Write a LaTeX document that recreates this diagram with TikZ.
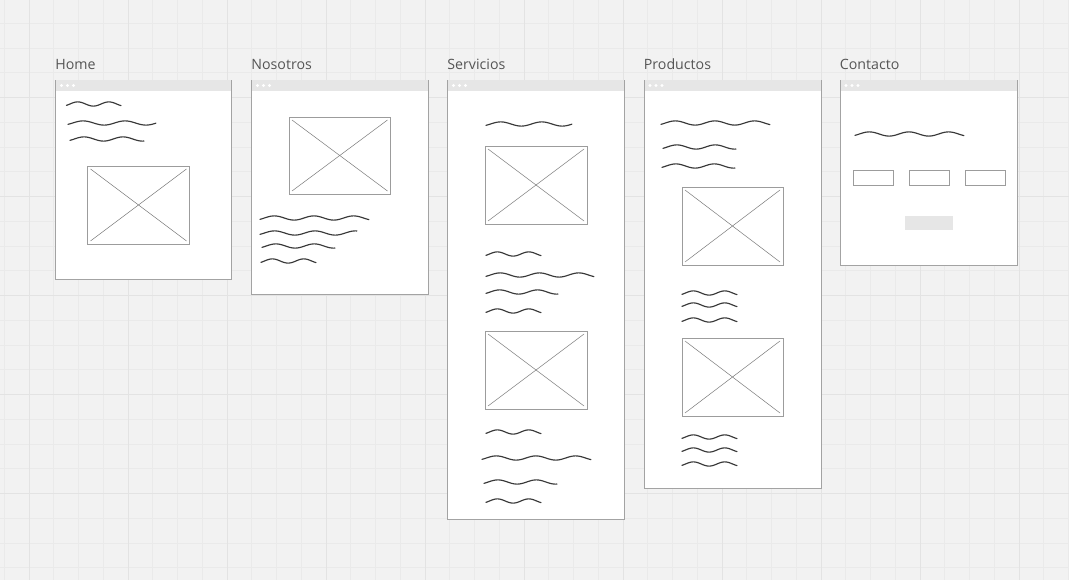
\documentclass[tikz,border=0pt]{standalone}
\usepackage{fontspec}
\setmainfont{Open Sans}
\definecolor{canvas}{HTML}{F2F2F2}
\definecolor{gridminor}{HTML}{EAEAEA}
\definecolor{gridmajor}{HTML}{E3E3E3}
\definecolor{framebar}{HTML}{E6E6E6}
\definecolor{frameedge}{HTML}{A3A3A3}
\definecolor{labelgray}{HTML}{555555}
\definecolor{inkgray}{HTML}{383838}
\definecolor{phedge}{HTML}{9C9C9C}
\definecolor{phcross}{HTML}{7A7A7A}
\tikzset{
  frame/.style={draw=frameedge,line width=0.9pt,fill=white},
  titlebar/.style={fill=framebar},
  bardot/.style={fill=white},
  pagelabel/.style={anchor=base west,inner sep=0pt,text=labelgray,font=\fontsize{14.2}{16}\selectfont},
  textline/.style={draw=inkgray,line width=1.15pt,line cap=round,line join=round},
  imgbox/.style={draw=phedge,line width=0.8pt,fill=white},
  imgcross/.style={draw=phcross,line width=0.5pt},
  inputbox/.style={draw=phedge,line width=1pt,fill=white},
  buttonbox/.style={fill=framebar},
}
% squiggle standing for a line of text: x0, x1, y, number of cycles
\newcommand\wavyline[4]{%
  \draw[textline] plot[domain=0:1,samples=70,smooth]
    ({#1+(#2-#1)*\x},{#3-2.1*sin(-40+360*#4*\x)});}
% image placeholder: box with a cross
\newcommand\imgholder[4]{%
  \draw[imgbox] (#1,#2) rectangle (#3,#4);
  \draw[imgcross] (#1+3,#2+3) -- (#3-3,#4-3);
  \draw[imgcross] (#1+3,#4-3) -- (#3-3,#2+3);}
% browser-like page frame: left, right, bottom, name, title
\newcommand\pageframe[5]{%
  \draw[frame] (#1,80) rectangle (#2,#3);
  \fill[titlebar] (#1+0.5,80.5) rectangle (#2-0.5,91);
  \foreach \d in {6,12,18} {\fill[bardot] (#1+\d,85.5) circle (1.6);}
  \node[pagelabel] (#4) at (#1-0.3,69.5) {#5};}
\begin{document}
\begin{tikzpicture}[x=1pt,y=-1pt]
\useasboundingbox (0,0) rectangle (1069,580);
\fill[canvas] (0,0) rectangle (1069,580);
% background grid
\begin{scope}
\clip (0,0) rectangle (1069,580);
\foreach \i in {0,...,44} {
  \draw[gridminor,line width=0.8pt] ({4.25+\i*24.75},0) -- ({4.25+\i*24.75},580);}
\foreach \i in {0,...,24} {
  \draw[gridminor,line width=0.8pt] (0,{-1.5+\i*24.75}) -- (1069,{-1.5+\i*24.75});}
\foreach \i in {0,...,11} {
  \draw[gridmajor,line width=1pt] ({29+\i*99},0) -- ({29+\i*99},580);}
\foreach \i in {0,...,6} {
  \draw[gridmajor,line width=1pt] (0,{-1.5+\i*99}) -- (1069,{-1.5+\i*99});}
\end{scope}

% Home
\pageframe{55.5}{231}{279}{home}{Home}
\wavyline{66.5}{121}{104}{1.75}
\wavyline{68}{156}{123}{2.1}
\wavyline{70}{144}{139}{1.9}
\imgholder{87.5}{166}{189.5}{244}

% Nosotros
\pageframe{251.5}{428}{294}{nosotros}{Nosotros}
\imgholder{289}{117}{390.5}{194}
\wavyline{260}{369}{218}{2.75}
\wavyline{260}{357}{233}{2.4}
\wavyline{262}{335}{246}{1.9}
\wavyline{261}{316}{261}{1.75}

% Servicios
\pageframe{447.5}{624}{519}{servicios}{Servicios}
\wavyline{486}{572}{124}{2.1}
\imgholder{485}{146}{587}{224}
\wavyline{486}{541}{254}{1.75}
\wavyline{486}{594}{275}{2.75}
\wavyline{486}{558}{292}{1.9}
\wavyline{486}{541}{311}{1.75}
\imgholder{485}{331}{587}{409}
\wavyline{486}{541}{432}{1.75}
\wavyline{482}{591}{458}{2.75}
\wavyline{484}{557}{482}{1.9}
\wavyline{486}{541}{501}{1.75}

% Productos
\pageframe{644}{821}{488}{productos}{Productos}
\wavyline{661}{770}{123}{2.75}
\wavyline{663}{736}{147}{1.9}
\wavyline{662}{735}{166}{1.9}
\imgholder{682}{187}{783}{265}
\wavyline{682}{737}{293}{1.75}
\wavyline{682}{737}{305}{1.75}
\wavyline{682}{737}{320}{1.75}
\imgholder{682}{338}{783}{416}
\wavyline{682}{737}{437}{1.75}
\wavyline{682}{737}{450}{1.75}
\wavyline{682}{737}{464}{1.75}

% Contacto
\pageframe{840}{1017}{265.5}{contacto}{Contacto}
\wavyline{855}{964}{134}{2.75}
\draw[inputbox] (853.5,171) rectangle (893.5,186);
\draw[inputbox] (909,171) rectangle (949,186);
\draw[inputbox] (965,171) rectangle (1005,186);
\fill[buttonbox] (905,216) rectangle (953,230);
\end{tikzpicture}
\end{document}
